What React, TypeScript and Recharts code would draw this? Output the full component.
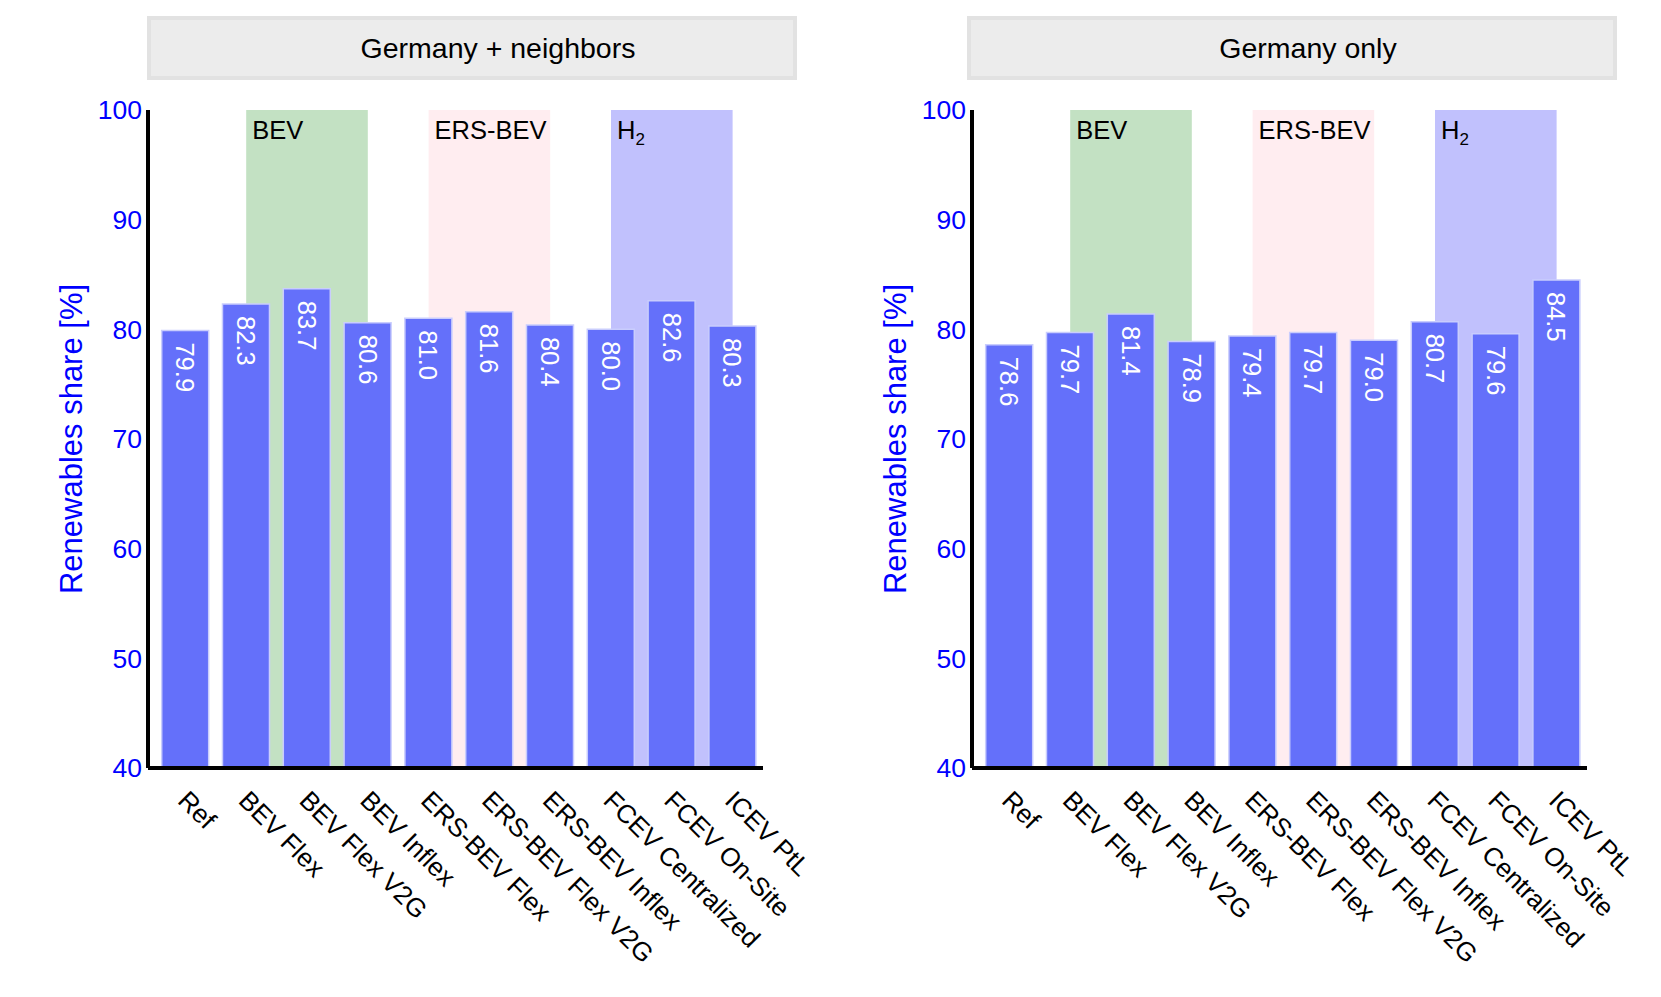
import React from "react";
import {
  Bar,
  BarChart,
  ReferenceArea,
  XAxis,
  YAxis,
} from "recharts";

const categories = [
  "Ref",
  "BEV Flex",
  "BEV Flex V2G",
  "BEV Inflex",
  "ERS-BEV Flex",
  "ERS-BEV Flex V2G",
  "ERS-BEV Inflex",
  "FCEV Centralized",
  "FCEV On-Site",
  "ICEV PtL",
];

const neighborsValues = [79.9, 82.3, 83.7, 80.6, 81.0, 81.6, 80.4, 80.0, 82.6, 80.3];
const germanyValues = [78.6, 79.7, 81.4, 78.9, 79.4, 79.7, 79.0, 80.7, 79.6, 84.5];

const yTicks = [40, 50, 60, 70, 80, 90, 100];

const bandLabels = ["BEV", "ERS-BEV", "H2"];
const bandStart = ["BEV Flex", "ERS-BEV Flex", "FCEV Centralized"];
const bandEnd = ["BEV Inflex", "ERS-BEV Inflex", "ICEV PtL"];
const bandColors = ["#c3e1c3", "#ffedf0", "#c1c1fd"];

const panelTitles = ["Germany + neighbors", "Germany only"];

const FONT = "'Liberation Sans', Arial, sans-serif";
const BAR_COLOR = "#6470fa";

function XTick(props: any) {
  const { x, y, payload } = props;
  const tx = x - 9;
  const ty = y + 34;
  return (
    <text
      x={tx}
      y={ty}
      transform={`rotate(45 ${tx} ${ty})`}
      textAnchor="start"
      fontSize={26}
      fill="#000"
      fontFamily={FONT}
    >
      {payload.value}
    </text>
  );
}

function ValueLabel(props: any) {
  const { x, y, width, value } = props;
  const cx = x + width / 2;
  const cy = y + 12;
  return (
    <text
      x={cx}
      y={cy}
      transform={`rotate(90 ${cx} ${cy})`}
      textAnchor="start"
      dominantBaseline="central"
      fontSize={25.5}
      fill="#fff"
      fontFamily={FONT}
    >
      {Number(value).toFixed(1)}
    </text>
  );
}

// band spans from the centre of its first category to the centre of its last
function bandShape(i: number) {
  const n = categories.indexOf(bandEnd[i]) - categories.indexOf(bandStart[i]) + 1;
  const text = bandLabels[i];
  return (p: any) => {
    const bw = p.width / n;
    const x = p.x + bw / 2;
    const w = p.width - bw;
    const tx = x + 6;
    const ty = p.y + 29;
    return (
      <g>
        <rect x={x} y={p.y} width={w} height={p.height} fill={bandColors[i]} />
        {text === "H2" ? (
          <text x={tx} y={ty} fontSize={25.5} fill="#000" fontFamily={FONT}>
            H
            <tspan fontSize={17} dy={6}>
              2
            </tspan>
          </text>
        ) : (
          <text x={tx} y={ty} fontSize={25.5} fill="#000" fontFamily={FONT}>
            {text}
          </text>
        )}
      </g>
    );
  };
}

function Panel({ values }: { values: number[] }) {
  const data = categories.map((name, i) => ({ name, value: values[i] }));
  return (
    <BarChart
      width={820}
      height={997}
      data={data}
      margin={{ top: 110, right: 57, left: 68, bottom: 29 }}
      barCategoryGap="11%"
      style={{ fontFamily: FONT }}
    >
      <XAxis
        dataKey="name"
        interval={0}
        height={200}
        padding={{ left: 7, right: 0 }}
        tickLine={false}
        tickSize={0}
        tickMargin={0}
        axisLine={{ stroke: "#000", strokeWidth: 4 }}
        tick={<XTick />}
      />
      <YAxis
        domain={[40, 100]}
        ticks={yTicks}
        width={80}
        allowDataOverflow
        tickLine={false}
        tickMargin={0}
        axisLine={{ stroke: "#000", strokeWidth: 4 }}
        tick={{ fill: "#0000ff", fontSize: 26.5, fontFamily: FONT }}
        label={{
          content: (p: any) => {
            const vb = p.viewBox;
            const lx = vb.x + 3;
            const ly = vb.y + vb.height / 2;
            return (
              <text
                x={lx}
                y={ly}
                transform={`rotate(-90 ${lx} ${ly})`}
                textAnchor="middle"
                dominantBaseline="central"
                fontSize={31}
                fill="#0000ff"
                fontFamily={FONT}
              >
                Renewables share [%]
              </text>
            );
          },
        }}
      />
      {bandLabels.map((label, i) => (
        <ReferenceArea
          key={label}
          x1={bandStart[i]}
          x2={bandEnd[i]}
          y1={40}
          y2={100}
          ifOverflow="visible"
          shape={bandShape(i)}
        />
      ))}
      <Bar
        dataKey="value"
        fill={BAR_COLOR}
        stroke="#c9cdfd"
        strokeWidth={1.5}
        isAnimationActive={false}
        label={<ValueLabel />}
      />
    </BarChart>
  );
}

function Header({ left, title, textCenter }: { left: number; title: string; textCenter: number }) {
  return (
    <div
      style={{
        position: "absolute",
        left,
        top: 16,
        width: 650,
        height: 64,
        boxSizing: "border-box",
        background: "#ececec",
        border: "4px solid #e2e2e2",
        fontFamily: FONT,
        fontSize: 28.5,
        color: "#000",
      }}
    >
      <div
        style={{
          position: "absolute",
          left: textCenter - left - 4 - 300,
          width: 600,
          top: 0,
          height: 56,
          lineHeight: "56px",
          textAlign: "center",
        }}
      >
        {title}
      </div>
    </div>
  );
}

export default function App() {
  return (
    <div
      style={{
        position: "absolute",
        left: 0,
        top: 0,
        width: 1661,
        height: 997,
        background: "#fff",
      }}
    >
      <div style={{ position: "absolute", left: 0, top: 0 }}>
        <Panel values={neighborsValues} />
      </div>
      <div style={{ position: "absolute", left: 824, top: 0 }}>
        <Panel values={germanyValues} />
      </div>
      <Header left={147} title={panelTitles[0]} textCenter={498} />
      <Header left={967} title={panelTitles[1]} textCenter={1308} />
    </div>
  );
}
